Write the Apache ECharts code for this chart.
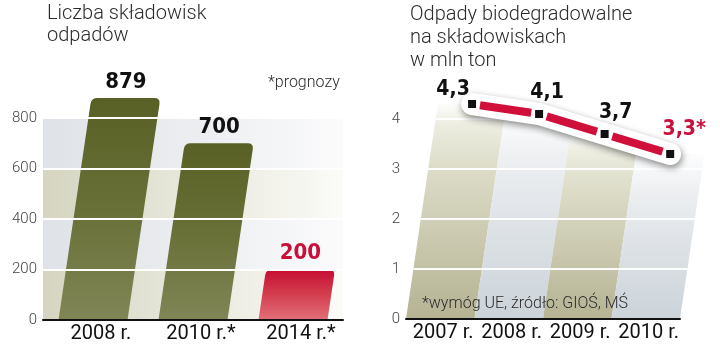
<!DOCTYPE html>
<html>
<head>
<meta charset="utf-8">
<script src="https://cdn.jsdelivr.net/npm/echarts@6/dist/echarts.min.js"></script>
<style>
  html, body { margin: 0; padding: 0; background: #fff; }
  #chart { width: 720px; height: 348px; }
</style>
</head>
<body>
<div id="chart"></div>
<script>
// Liczba składowisk odpadów
const siteYears = ['2008 r.', '2010 r.*', '2014 r.*'];
const siteCounts = [879, 700, 200];
const siteForecast = [false, false, true];
const siteAxisMax = 800;
const siteAxisStep = 200;

// Odpady biodegradowalne na składowiskach, w mln ton
const wasteYears = ['2007 r.', '2008 r.', '2009 r.', '2010 r.'];
const wasteValues = [4.3, 4.1, 3.7, 3.3];
const wasteRequired = [false, false, false, true];
const wasteAxisMax = 4;
const wasteAxisStep = 1;

// label placement around each line marker (dx, dy in px)
const wasteLabelOffsets = [[-19, -14], [8, -21], [11, -21], [14, -24]];

const SLANT = 0.148;           // horizontal lean of the columns per pixel of height
const LIGHT = 'Roboto';
const BOLD = '"DejaVu Sans Condensed", "DejaVu Sans", sans-serif';
const RED = '#c8103a';
const G = echarts.graphic;

function fmt(v) { return String(v).replace('.', ','); }

function vgrad(stops) {
  return new G.LinearGradient(0, 0, 0, 1, stops.map((c) => ({ offset: c[0], color: c[1] })));
}
function hgrad(stops) {
  return new G.LinearGradient(0, 0, 1, 0, stops.map((c) => ({ offset: c[0], color: c[1] })));
}

// top-centre of a leaning column
function leanTop(api, i, v) {
  const b = api.coord([i, 0]);
  const t = api.coord([i, v]);
  return [t[0] + SLANT * (b[1] - t[1]), t[1]];
}

// slanted bars with rounded upper corners
function renderSiteBar(params, api) {
  const i = api.value(0), v = api.value(1);
  const base = api.coord([i, 0]);
  const top = api.coord([i, v]);
  const w = api.size([1, 0])[0] * 0.69;
  const h = base[1] - top[1];
  const dx = SLANT * h;
  const bl = [base[0] - w / 2, base[1]], br = [base[0] + w / 2, base[1]];
  const tl = [bl[0] + dx, top[1]], tr = [br[0] + dx, top[1]];
  const len = Math.hypot(dx, h), ux = dx / len, uy = -h / len, r = 6;
  const d = [
    'M', bl[0], bl[1],
    'L', tl[0] - ux * r, tl[1] - uy * r,
    'Q', tl[0], tl[1], tl[0] + r, tl[1],
    'L', tr[0] - r, tr[1],
    'Q', tr[0], tr[1], tr[0] - ux * r, tr[1] - uy * r,
    'L', br[0], br[1], 'Z'
  ].join(' ');
  const fill = siteForecast[params.dataIndex]
    ? vgrad([[0, '#c60d33'], [0.45, '#d23a4c'], [1, '#e2707a']])
    : vgrad([[0, '#596026'], [0.5, '#687037'], [1, '#808556']]);
  return { type: 'path', shape: { pathData: d }, style: { fill: fill } };
}

// value printed above each bar
function renderSiteLabel(params, api) {
  const v = api.value(1);
  const p = leanTop(api, api.value(0), v);
  const forecast = siteForecast[params.dataIndex];
  return {
    type: 'text', x: p[0], y: p[1] - 16,
    style: {
      text: fmt(v), font: 'bold 22px ' + BOLD,
      fill: forecast ? RED : '#111', align: 'center', verticalAlign: 'middle'
    }
  };
}

// leaning background columns of the second chart, with their grid lines
function renderWasteStripe(params, api) {
  const i = api.value(0), v = api.value(1);
  const base = api.coord([i, 0]);
  const top = api.coord([i, v]);
  const w = api.size([1, 0])[0];
  const h = base[1] - top[1];
  const dx = SLANT * h;
  const even = params.dataIndex % 2 === 0;
  const fill = even
    ? vgrad([[0, 'rgba(240,240,230,0.2)'], [0.1, '#ecece0'], [0.3, '#dcdcc8'], [0.65, '#c9c8ae'], [1, '#b5b393']])
    : vgrad([[0, 'rgba(242,244,246,0.2)'], [0.2, '#eef0f2'], [0.5, '#e0e4e8'], [1, '#cbd3d9']]);
  const children = [{
    type: 'polygon',
    shape: { points: [[base[0] - w / 2, base[1]], [base[0] + w / 2, base[1]], [base[0] + w / 2 + dx, top[1]], [base[0] - w / 2 + dx, top[1]]] },
    style: { fill: fill }
  }];
  for (let t = wasteAxisStep; t <= v; t += wasteAxisStep) {
    const y = api.coord([i, t])[1];
    const s = SLANT * (base[1] - y);
    children.push({
      type: 'line',
      shape: { x1: base[0] - w / 2 + s, y1: y, x2: base[0] + w / 2 + s, y2: y },
      style: { stroke: 'rgba(255,255,255,0.95)', lineWidth: 2 }
    });
  }
  return { type: 'group', children: children };
}

// the red trend line with its white halo, square markers and values
function renderWasteLine(params, api) {
  const k = params.dataIndex;
  const n = params.dataInsideLength;
  const pts = [];
  for (let j = 0; j < n; j++) pts.push(leanTop(api, api.value(0, j), api.value(1, j)));
  const children = [];
  if (k === 0) {
    children.push({
      type: 'polyline', shape: { points: pts },
      style: {
        stroke: '#fff', lineWidth: 22, lineCap: 'round', lineJoin: 'round', fill: null,
        shadowBlur: 7, shadowColor: 'rgba(0,0,0,0.45)', shadowOffsetX: 1, shadowOffsetY: 3
      }
    });
  }
  const p = pts[k];
  if (k < n - 1) {
    const q = pts[k + 1];
    const len = Math.hypot(q[0] - p[0], q[1] - p[1]);
    const ux = (q[0] - p[0]) / len, uy = (q[1] - p[1]) / len, gap = 8;
    children.push({
      type: 'line',
      shape: { x1: p[0] + ux * gap, y1: p[1] + uy * gap, x2: q[0] - ux * gap, y2: q[1] - uy * gap },
      style: { stroke: '#d0103a', lineWidth: 8, lineCap: 'butt' }
    });
  }
  children.push({ type: 'rect', shape: { x: p[0] - 4, y: p[1] - 4, width: 8, height: 8 }, style: { fill: '#111' } });
  const off = wasteLabelOffsets[k];
  const req = wasteRequired[k];
  children.push({
    type: 'text', x: p[0] + off[0], y: p[1] + off[1],
    style: {
      text: fmt(api.value(1)) + (req ? '*' : ''), font: 'bold 21px ' + BOLD,
      fill: req ? RED : '#111', align: 'center', verticalAlign: 'middle'
    }
  });
  return { type: 'group', children: children };
}

const beigeBand = hgrad([[0, '#d5d5c1'], [0.45, '#e6e6da'], [1, '#fbfbf8']]);
const blueBand = hgrad([[0, '#dfe2e7'], [0.45, '#eaecef'], [1, '#fbfbfc']]);

const axisLabelX = { color: '#111', fontFamily: LIGHT, fontSize: 20, margin: 4, interval: 0 };
const axisLabelY = { color: '#444', fontFamily: LIGHT, fontWeight: 300, fontSize: 15, margin: 6 };

function textEl(x, y, text, size) {
  return {
    type: 'text', x: x, y: y, z: 10,
    style: { text: text, font: '300 ' + size + 'px ' + LIGHT, fill: '#2b2b2b', verticalAlign: 'middle', align: 'left' }
  };
}

const option = {
  animation: false,
  backgroundColor: '#fff',
  grid: [
    { left: 43, width: 300, top: 118, height: 202 },
    { left: 406, width: 274, top: 119, height: 200 }
  ],
  xAxis: [
    {
      type: 'category', gridIndex: 0, data: siteYears, z: 6,
      axisLine: { lineStyle: { color: '#111', width: 2 } }, axisTick: { show: false },
      axisLabel: Object.assign({ padding: [0, 0, 0, 16] }, axisLabelX)
    },
    {
      type: 'category', gridIndex: 1, data: wasteYears, z: 6,
      axisLine: { lineStyle: { color: '#111', width: 2 } }, axisTick: { show: false },
      axisLabel: Object.assign({ padding: [0, 0, 0, 6] }, axisLabelX)
    }
  ],
  yAxis: [
    {
      type: 'value', gridIndex: 0, position: 'left', min: 0, max: siteAxisMax, interval: siteAxisStep,
      axisLabel: { show: false }, axisLine: { show: false }, axisTick: { show: false },
      splitLine: { show: false },
      splitArea: { show: true, areaStyle: { color: [beigeBand, blueBand] } }
    },
    {
      type: 'value', gridIndex: 0, position: 'left', min: 0, max: siteAxisMax, interval: siteAxisStep, z: 5,
      axisLabel: axisLabelY, axisLine: { show: false }, axisTick: { show: false },
      splitLine: { show: true, lineStyle: { color: '#fff', width: 2 } }
    },
    {
      type: 'value', gridIndex: 1, position: 'left', min: 0, max: wasteAxisMax, interval: wasteAxisStep,
      axisLabel: axisLabelY, axisLine: { show: false }, axisTick: { show: false },
      splitLine: { show: false }
    }
  ],
  series: [
    {
      type: 'custom', xAxisIndex: 0, yAxisIndex: 1, z: 2,
      encode: { x: 0, y: 1 },
      data: siteCounts.map((v, i) => [i, v]),
      renderItem: renderSiteBar
    },
    {
      type: 'custom', xAxisIndex: 0, yAxisIndex: 1, z: 7,
      encode: { x: 0, y: 1 },
      data: siteCounts.map((v, i) => [i, v]),
      renderItem: renderSiteLabel
    },
    {
      type: 'custom', xAxisIndex: 1, yAxisIndex: 2, z: 1,
      encode: { x: 0, y: 1 },
      data: wasteValues.map((v, i) => [i, v]),
      renderItem: renderWasteStripe
    },
    {
      type: 'custom', xAxisIndex: 1, yAxisIndex: 2, z: 8,
      encode: { x: 0, y: 1 },
      data: wasteValues.map((v, i) => [i, v]),
      renderItem: renderWasteLine
    }
  ],
  graphic: [
    textEl(47, 14, 'Liczba składowisk', 20),
    textEl(47, 36, 'odpadów', 20),
    textEl(268, 83, '*prognozy', 16),
    textEl(410, 15, 'Odpady biodegradowalne', 20),
    textEl(410, 38, 'na składowiskach', 20),
    textEl(410, 61, 'w mln ton', 20),
    textEl(422, 304, '*wymóg UE, źródło: GIOŚ, MŚ', 16)
  ]
};

const chart = echarts.init(document.getElementById('chart'), null, { renderer: 'canvas' });
chart.setOption(option);
</script>
</body>
</html>
